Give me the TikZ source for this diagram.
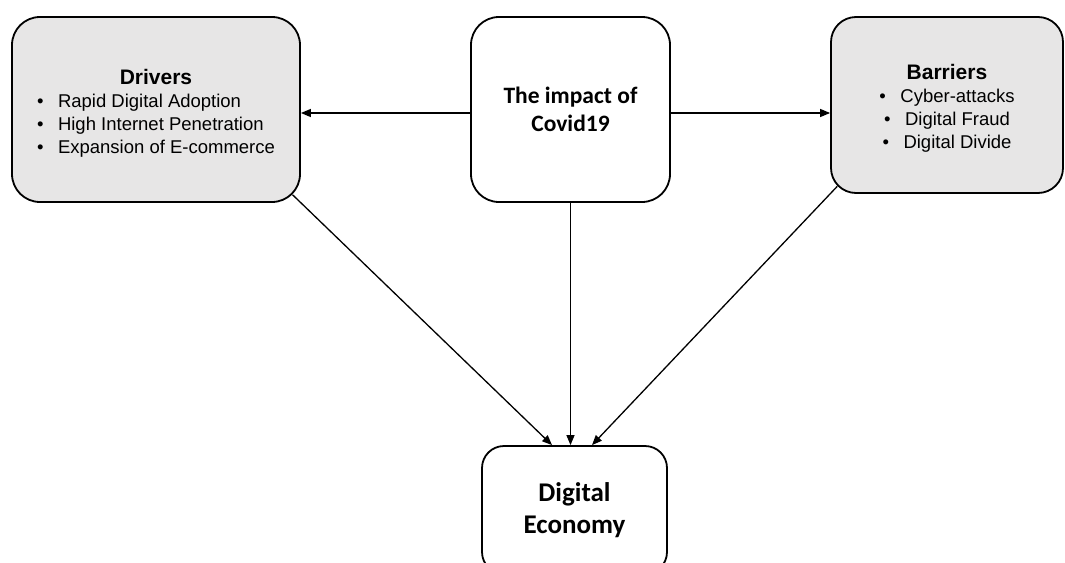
\documentclass[tikz,border=0pt]{standalone}
\usepackage{fontspec}
\setmainfont{Liberation Sans}
\newfontfamily\calibri{Carlito}
\usetikzlibrary{arrows.meta}
\definecolor{boxgrey}{RGB}{231,230,230}
\tikzset{
  box/.style={draw, line width=1.8pt, rounded corners=28pt, fill=white, align=center, inner sep=0pt},
  greybox/.style={box, fill=boxgrey, font={\fontsize{18.5}{23}\selectfont}},
  arr/.style={-{Triangle[length=10pt,width=8pt]}, line width=1.3pt},
}
\newcommand{\itm}{\makebox[21pt][l]{\textbullet}}
\newcommand{\ttl}[1]{{\fontsize{21}{23}\selectfont\textbf{#1}}}

\begin{document}
\begin{tikzpicture}[x=1pt,y=-1pt]
    \useasboundingbox (0,0) rectangle (1065,562);

    \node[greybox, minimum width=288pt, minimum height=185pt] (drivers) at (156,109.5) {%
      \raisebox{-5pt}[\height][\depth]{\begin{tabular}{@{}l@{}}
        \multicolumn{1}{@{}c@{}}{\ttl{Drivers}}\\
        \itm Rapid Digital Adoption\\
        \itm High Internet Penetration\\
        \itm Expansion of E-commerce
      \end{tabular}}};
    \node[box, minimum width=199pt, minimum height=185pt, font={\calibri\bfseries\fontsize{23.5}{28}\selectfont}] (covid) at (570.5,109.5) {The impact of\\Covid19};
    \node[greybox, rounded corners=25pt, minimum width=232pt, minimum height=176pt] (barriers) at (947,105) {%
      \raisebox{-4pt}[\height][\depth]{\begin{tabular}{@{}c@{}}
        \ttl{Barriers}\\
        \itm Cyber-attacks\\
        \itm Digital Fraud\\
        \itm Digital Divide
      \end{tabular}}};
    \node[box, rounded corners=22pt, minimum width=185pt, minimum height=128pt, font={\calibri\bfseries\fontsize{27}{32}\selectfont}] (econ) at (574.5,510) {Digital\\Economy};

    % arrows
    \draw[arr] ([yshift=-3.5pt]covid.west) -- ([yshift=-3.5pt]covid.west -| drivers.east);
    \draw[arr] ([yshift=-3.5pt]covid.east) -- ([yshift=-3.5pt]covid.east -| barriers.west);
    \draw[arr] ([shift={(-8.3,-8.1)}]drivers.south east) -- ([xshift=-22.5pt]econ.north);
    \draw[arr] (covid.south) -- (covid.south |- econ.north);
    \draw[arr] ([shift={(7.1,-7.5)}]barriers.south west) -- ([xshift=17.5pt]econ.north);
\end{tikzpicture}
\end{document}
